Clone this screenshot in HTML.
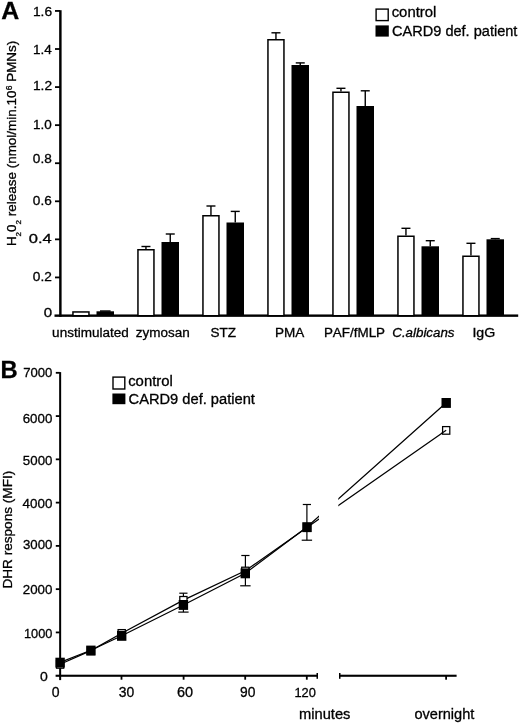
<!DOCTYPE html>
<html><head><meta charset="utf-8"><title>Figure</title>
<style>
html,body{margin:0;padding:0;background:#fff;}
body{width:520px;height:724px;overflow:hidden;}
svg{display:block;will-change:transform;}
text{font-family:"Liberation Sans",Arial,Helvetica,sans-serif;fill:#000;font-kerning:none;stroke:#000;stroke-width:0.3px;}
</style></head><body>
<svg width="520" height="724" viewBox="0 0 520 724">
<rect width="520" height="724" fill="#fff"/>

<!-- Panel A -->
<text transform="translate(1.18 19) scale(1.0372 1)" font-size="24" font-weight="bold">A</text>
<rect x="59.15" y="10.20" width="2.45" height="306.60" fill="#000"/>
<rect x="54.50" y="314.45" width="463.70" height="2.40" fill="#000"/>
<text transform="translate(43.71 317.3) scale(1.2050 1)" font-size="12.5">0</text>
<rect x="55.00" y="276.53" width="5.00" height="1.80" fill="#000"/>
<text transform="translate(32.87 280.5) scale(1.0947 1)" font-size="12.5">0.2</text>
<rect x="55.00" y="238.46" width="5.00" height="1.80" fill="#000"/>
<text transform="translate(28.76 243.1) scale(1.3194 1)" font-size="12.5">0.4</text>
<rect x="55.00" y="200.39" width="5.00" height="1.80" fill="#000"/>
<text transform="translate(32.87 205) scale(1.0894 1)" font-size="12.5">0.6</text>
<rect x="55.00" y="162.32" width="5.00" height="1.80" fill="#000"/>
<text transform="translate(32.87 163) scale(1.0890 1)" font-size="12.5">0.8</text>
<rect x="55.00" y="124.25" width="5.00" height="1.80" fill="#000"/>
<text transform="translate(32.97 129.3) scale(1.0793 1)" font-size="12.5">1.0</text>
<rect x="55.00" y="86.18" width="5.00" height="1.80" fill="#000"/>
<text transform="translate(32.95 89.7) scale(1.1016 1)" font-size="12.5">1.2</text>
<rect x="55.00" y="48.11" width="5.00" height="1.80" fill="#000"/>
<text transform="translate(32.97 54) scale(1.0835 1)" font-size="12.5">1.4</text>
<rect x="55.00" y="10.04" width="5.00" height="1.80" fill="#000"/>
<text transform="translate(32.95 16.3) scale(1.1023 1)" font-size="12.5">1.6</text>
<g transform="translate(15.9 245) rotate(-90) translate(-1.11 0) scale(1.0058 1)">
<text x="0.00" y="0" font-size="13.4" xml:space="preserve">H</text>
<text x="9.68" y="4.7" font-size="8" xml:space="preserve">2</text>
<text x="14.13" y="0" font-size="13.4" xml:space="preserve">0</text>
<text x="21.58" y="4.7" font-size="8" xml:space="preserve">2</text>
<text x="26.03" y="0" font-size="13.4" xml:space="preserve"> release (nmol/min.10</text>
<text x="154.87" y="-4.2" font-size="8.5" xml:space="preserve">6</text>
<text x="159.60" y="0" font-size="13.4" xml:space="preserve"> PMNs)</text>
</g>
<rect x="72.95" y="311.95" width="16.00" height="3.80" fill="#fff" stroke="#000" stroke-width="1.5"/>
<rect x="96.50" y="311.30" width="17.50" height="3.70" fill="#000"/>
<rect x="145.25" y="246.50" width="1.40" height="2.50" fill="#000"/>
<rect x="141.45" y="245.80" width="9.00" height="1.40" fill="#000"/>
<rect x="169.55" y="234.00" width="1.40" height="8.00" fill="#000"/>
<rect x="165.75" y="233.30" width="9.00" height="1.40" fill="#000"/>
<rect x="137.95" y="249.75" width="16.00" height="66.00" fill="#fff" stroke="#000" stroke-width="1.5"/>
<rect x="161.50" y="242.00" width="17.50" height="73.00" fill="#000"/>
<rect x="210.25" y="206.00" width="1.40" height="9.00" fill="#000"/>
<rect x="206.45" y="205.30" width="9.00" height="1.40" fill="#000"/>
<rect x="234.55" y="211.40" width="1.40" height="11.10" fill="#000"/>
<rect x="230.75" y="210.70" width="9.00" height="1.40" fill="#000"/>
<rect x="202.95" y="215.75" width="16.00" height="100.00" fill="#fff" stroke="#000" stroke-width="1.5"/>
<rect x="226.50" y="222.50" width="17.50" height="92.50" fill="#000"/>
<rect x="275.25" y="32.80" width="1.40" height="6.20" fill="#000"/>
<rect x="271.45" y="32.10" width="9.00" height="1.40" fill="#000"/>
<rect x="299.55" y="62.90" width="1.40" height="2.10" fill="#000"/>
<rect x="295.75" y="62.20" width="9.00" height="1.40" fill="#000"/>
<rect x="267.95" y="39.75" width="16.00" height="276.00" fill="#fff" stroke="#000" stroke-width="1.5"/>
<rect x="291.50" y="65.00" width="17.50" height="250.00" fill="#000"/>
<rect x="340.25" y="88.30" width="1.40" height="3.20" fill="#000"/>
<rect x="336.45" y="87.60" width="9.00" height="1.40" fill="#000"/>
<rect x="364.55" y="90.80" width="1.40" height="15.20" fill="#000"/>
<rect x="360.75" y="90.10" width="9.00" height="1.40" fill="#000"/>
<rect x="332.95" y="92.25" width="16.00" height="223.50" fill="#fff" stroke="#000" stroke-width="1.5"/>
<rect x="356.50" y="106.00" width="17.50" height="209.00" fill="#000"/>
<rect x="405.25" y="228.30" width="1.40" height="7.20" fill="#000"/>
<rect x="401.45" y="227.60" width="9.00" height="1.40" fill="#000"/>
<rect x="429.55" y="240.70" width="1.40" height="5.60" fill="#000"/>
<rect x="425.75" y="240.00" width="9.00" height="1.40" fill="#000"/>
<rect x="397.95" y="236.25" width="16.00" height="79.50" fill="#fff" stroke="#000" stroke-width="1.5"/>
<rect x="421.50" y="246.30" width="17.50" height="68.70" fill="#000"/>
<rect x="470.25" y="243.30" width="1.40" height="12.20" fill="#000"/>
<rect x="466.45" y="242.60" width="9.00" height="1.40" fill="#000"/>
<rect x="494.55" y="238.60" width="1.40" height="0.70" fill="#000"/>
<rect x="490.75" y="237.90" width="9.00" height="1.40" fill="#000"/>
<rect x="462.95" y="256.25" width="16.00" height="59.50" fill="#fff" stroke="#000" stroke-width="1.5"/>
<rect x="486.50" y="239.30" width="17.50" height="75.70" fill="#000"/>
<rect x="100.00" y="310.30" width="10.60" height="1.50" fill="#000"/>
<text transform="translate(52.12 337.4) scale(1.0178 1)" font-size="13.3">unstimulated</text>
<text transform="translate(135.65 337.4) scale(1.0151 1)" font-size="13.3">zymosan</text>
<text transform="translate(210.59 337.4) scale(1.0166 1)" font-size="13.3">STZ</text>
<text transform="translate(274.89 337.4) scale(1.0179 1)" font-size="13.3">PMA</text>
<text transform="translate(323.90 337.4) scale(1.0100 1)" font-size="13.3">PAF/fMLP</text>
<text transform="translate(392.26 337.4) scale(1.0034 1)" font-size="13.3" font-style="italic">C.albicans</text>
<text transform="translate(472.39 337.4) scale(1.0668 1)" font-size="13.3">IgG</text>
<rect x="376.1" y="9.1" width="12.1" height="11.5" fill="#fff" stroke="#000" stroke-width="1.4"/>
<rect x="375.50" y="25.40" width="13.30" height="11.20" fill="#000"/>
<text transform="translate(391.67 17.2) scale(1.0495 1)" font-size="14.2">control</text>
<text transform="translate(392.06 36.2) scale(1.0041 1)" font-size="14.5">CARD9 def. patient</text>
<!-- Panel B -->
<text transform="translate(0.41 377.5) scale(0.9907 1)" font-size="24" font-weight="bold">B</text>
<rect x="59.15" y="372.10" width="2.00" height="308.00" fill="#000"/>
<rect x="55.60" y="674.70" width="262.40" height="2.10" fill="#000"/>
<rect x="339.00" y="674.70" width="117.60" height="2.10" fill="#000"/>
<rect x="316.50" y="673.00" width="1.50" height="5.80" fill="#000"/>
<rect x="339.00" y="673.00" width="1.50" height="5.80" fill="#000"/>
<text transform="translate(39.95 681.1) scale(1.0382 1)" font-size="13.5">0</text>
<rect x="55.80" y="631.53" width="4.00" height="1.80" fill="#000"/>
<text transform="translate(23.92 637.6) scale(0.9481 1)" font-size="13.5">1000</text>
<rect x="55.80" y="588.26" width="4.00" height="1.80" fill="#000"/>
<text transform="translate(22.73 593.5) scale(0.9887 1)" font-size="13.5">2000</text>
<rect x="55.80" y="544.99" width="4.00" height="1.80" fill="#000"/>
<text transform="translate(22.89 549.3) scale(0.9831 1)" font-size="13.5">3000</text>
<rect x="55.80" y="501.72" width="4.00" height="1.80" fill="#000"/>
<text transform="translate(22.59 508.4) scale(0.9933 1)" font-size="13.5">4000</text>
<rect x="55.80" y="458.45" width="4.00" height="1.80" fill="#000"/>
<text transform="translate(22.87 464.9) scale(0.9840 1)" font-size="13.5">5000</text>
<rect x="55.80" y="415.18" width="4.00" height="1.80" fill="#000"/>
<text transform="translate(22.72 422.6) scale(0.9854 1)" font-size="13.5">6000</text>
<rect x="55.80" y="371.91" width="4.00" height="1.80" fill="#000"/>
<text transform="translate(23.13 376.7) scale(0.9718 1)" font-size="13.5">7000</text>
<rect x="120.60" y="675.00" width="1.80" height="4.70" fill="#000"/>
<rect x="182.70" y="675.00" width="1.80" height="4.70" fill="#000"/>
<rect x="244.30" y="675.00" width="1.80" height="4.70" fill="#000"/>
<rect x="305.90" y="675.00" width="1.80" height="4.70" fill="#000"/>
<rect x="445.20" y="675.00" width="1.80" height="4.70" fill="#000"/>
<text transform="translate(51.75 697) scale(1.0011 1)" font-size="14">0</text>
<text transform="translate(118.87 697) scale(0.9936 1)" font-size="14">30</text>
<text transform="translate(177.06 697) scale(1.0339 1)" font-size="14">60</text>
<text transform="translate(239.95 697) scale(0.9882 1)" font-size="14">90</text>
<text transform="translate(294.42 696.7) scale(0.9538 1)" font-size="13.5">120</text>
<text transform="translate(299.03 718.5) scale(1.0487 1)" font-size="14">minutes</text>
<text transform="translate(414.39 718.5) scale(1.0062 1)" font-size="14.5">overnight</text>
<g transform="translate(11.8 587.5) rotate(-90) translate(-1.12 0) scale(1.0081 1)">
<text x="0.00" y="0" font-size="13.5" xml:space="preserve">DHR respons (MFI)</text>
</g>
<rect x="113" y="377.1" width="11.8" height="11.9" fill="#fff" stroke="#000" stroke-width="1.4"/>
<rect x="112.40" y="393.50" width="13.00" height="10.70" fill="#000"/>
<text transform="translate(128.17 385.8) scale(1.0495 1)" font-size="14.2">control</text>
<text transform="translate(128.55 403.8) scale(1.0484 1)" font-size="14">CARD9 def. patient</text>
<polyline points="60.1,664.2 90.9,650.6 121.7,633.2 183.4,600.1 245.3,570.8 307,527.4 446.2,430.2" fill="none" stroke="#000" stroke-width="1.25"/>
<polyline points="60.1,662.4 90.9,650.3 121.7,635.8 183.4,605.0 245.3,573.2 307,526.9 446.2,402.7" fill="none" stroke="#000" stroke-width="1.25"/>
<rect x="319.00" y="480.00" width="19.30" height="60.00" fill="#fff"/>
<rect x="182.80" y="593.20" width="1.20" height="18.90" fill="#000"/>
<rect x="179.30" y="592.60" width="8.20" height="1.20" fill="#000"/>
<rect x="178.20" y="611.50" width="10.40" height="1.20" fill="#000"/>
<rect x="244.80" y="555.50" width="1.20" height="30.30" fill="#000"/>
<rect x="241.30" y="554.90" width="8.20" height="1.20" fill="#000"/>
<rect x="240.20" y="585.20" width="10.40" height="1.20" fill="#000"/>
<rect x="306.30" y="504.50" width="1.20" height="35.70" fill="#000"/>
<rect x="302.80" y="503.90" width="8.20" height="1.20" fill="#000"/>
<rect x="301.70" y="539.60" width="10.40" height="1.20" fill="#000"/>
<rect x="56.50" y="660.60" width="7.2" height="7.6" fill="#fff" stroke="#000" stroke-width="1.25"/>
<rect x="87.30" y="647.00" width="7.2" height="7.6" fill="#fff" stroke="#000" stroke-width="1.25"/>
<rect x="118.10" y="629.60" width="7.2" height="7.6" fill="#fff" stroke="#000" stroke-width="1.25"/>
<rect x="179.80" y="596.50" width="7.2" height="7.6" fill="#fff" stroke="#000" stroke-width="1.25"/>
<rect x="241.70" y="567.20" width="7.2" height="7.6" fill="#fff" stroke="#000" stroke-width="1.25"/>
<rect x="303.40" y="523.80" width="7.2" height="7.6" fill="#fff" stroke="#000" stroke-width="1.25"/>
<rect x="442.60" y="426.60" width="7.2" height="7.6" fill="#fff" stroke="#000" stroke-width="1.25"/>
<line x1="441" y1="433.82" x2="446.2" y2="430.2" stroke="#000" stroke-width="1.15"/>
<rect x="55.40" y="657.70" width="9.40" height="9.90" fill="#000"/>
<rect x="86.20" y="645.60" width="9.40" height="9.90" fill="#000"/>
<rect x="117.00" y="630.90" width="9.40" height="9.90" fill="#000"/>
<rect x="178.70" y="600.00" width="9.40" height="9.90" fill="#000"/>
<rect x="240.60" y="568.40" width="9.40" height="9.90" fill="#000"/>
<rect x="302.30" y="522.20" width="9.40" height="9.90" fill="#000"/>
<rect x="441.50" y="398.00" width="9.40" height="9.90" fill="#000"/>
</svg></body></html>
